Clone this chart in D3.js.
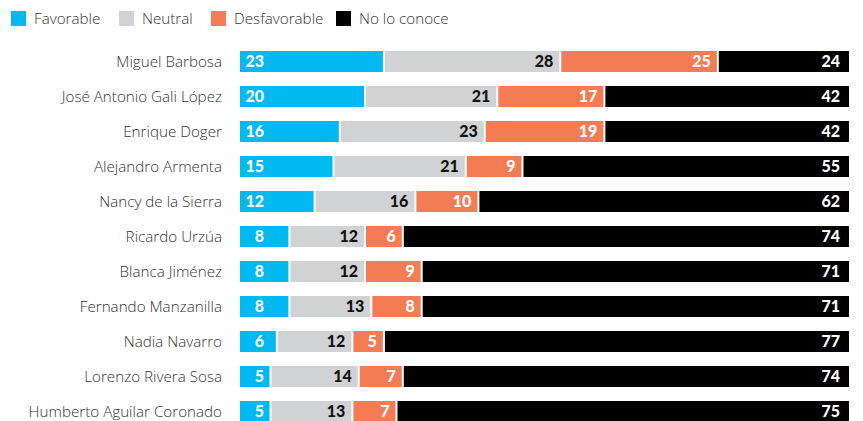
<!DOCTYPE html>
<html><head><meta charset="utf-8">
<script src="https://cdn.jsdelivr.net/npm/d3@7/dist/d3.min.js"></script>
<style>body{margin:0;background:#fff;} svg{display:block;overflow:hidden}</style>
</head><body>
<script>
const categories = ["Miguel Barbosa","José Antonio Gali López","Enrique Doger","Alejandro Armenta","Nancy de la Sierra","Ricardo Urzúa","Blanca Jiménez","Fernando Manzanilla","Nadia Navarro","Lorenzo Rivera Sosa","Humberto Aguilar Coronado"];
const seriesNames = ["Favorable","Neutral","Desfavorable","No lo conoce"];
const favorable    = [23,20,16,15,12,8,8,8,6,5,5];
const neutral      = [28,21,23,21,16,12,12,13,12,14,13];
const desfavorable = [25,17,19,9,10,6,9,8,5,7,7];
const noLoConoce   = [24,42,42,55,62,74,71,71,77,74,75];
const colors = ["#00b9f1","#d1d2d4","#f47c55","#000000"];
const labelColors = ["#fff","#111","#fff","#fff"];

const W = 849, H = 421;
const svg = d3.select("body").append("svg").attr("width", W).attr("height", H);
const font = "'Open Sans', Lato, sans-serif";
const numFont = "Lato, 'Open Sans', sans-serif";

const rows = categories.map((c,i)=>({cat:c, Favorable:favorable[i], Neutral:neutral[i], Desfavorable:desfavorable[i], "No lo conoce":noLoConoce[i]}));
const stacked = d3.stack().keys(seriesNames)(rows);

const x = d3.scaleLinear().domain([0,100]).range([239, 869]);
const y = d3.scaleBand().domain(categories).range([44, 429]).paddingInner(0.4).paddingOuter(0.2);

// legend
const legX = [11, 119, 211, 336];
const leg = svg.append("g");
seriesNames.forEach((s,i)=>{
  const g = leg.append("g").attr("transform", `translate(${legX[i]},11)`);
  g.append("rect").attr("width",15).attr("height",15).attr("fill",colors[i]);
  g.append("text").attr("x",23).attr("y",13).text(s)
    .attr("font-family",font).attr("font-weight",300).attr("font-size",15.2).attr("fill","#333");
});

// category labels
svg.append("g").selectAll("text").data(categories).join("text")
  .attr("x", 222).attr("y", d=>y(d)+y.bandwidth()/2).attr("dy","0.35em")
  .attr("text-anchor","end").attr("font-family",font).attr("font-weight",300).attr("font-size",15.2).attr("fill","#333")
  .text(d=>d);

// bars
stacked.forEach((layer,i)=>{
  const g = svg.append("g");
  g.selectAll("rect").data(layer).join("rect")
    .attr("x", d=> x(d[0])+1)
    .attr("y", d=>y(d.data.cat))
    .attr("height", y.bandwidth())
    .attr("width", d=> x(d[1])-x(d[0])-2)
    .attr("fill", colors[i]);
  g.selectAll("text").data(layer).join("text")
    .attr("x", d=>{
      if(i===0) return x(0)+25;
      const e = Math.min(x(d[1])-1, W);
      return i===3 ? e-9 : e-6;
    })
    .attr("y", d=>y(d.data.cat)+y.bandwidth()/2).attr("dy","0.36em")
    .attr("text-anchor","end").attr("font-family",numFont).attr("font-weight",900)
    .attr("font-size",16).attr("fill",labelColors[i])
    .text(d=>d[1]-d[0]);
});
</script>
</body></html>
